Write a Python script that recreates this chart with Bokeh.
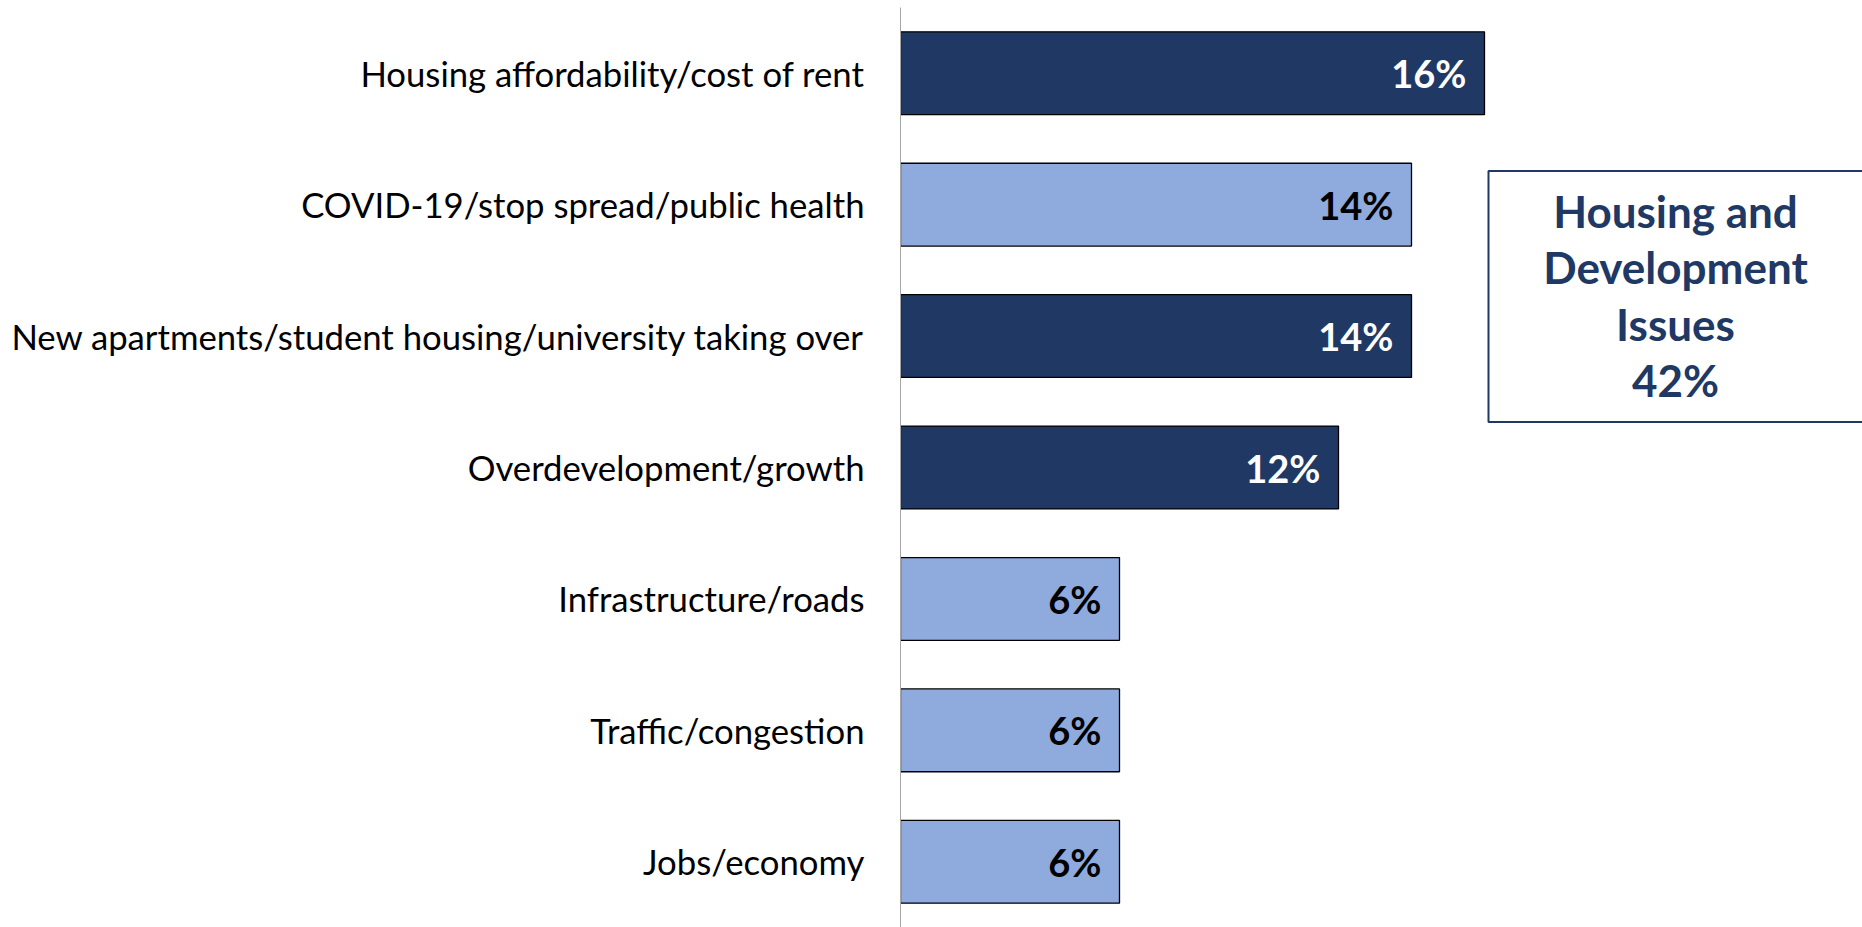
from bokeh.plotting import figure
from bokeh.models import Range1d, FactorRange, BoxAnnotation, Label, ColumnDataSource
from bokeh.core.properties import value
from bokeh.embed import file_html
from bokeh.resources import INLINE

categories = [
    "Housing affordability/cost of rent",
    "COVID-19/stop spread/public health",
    "New apartments/student housing/university taking over",
    "Overdevelopment/growth",
    "Infrastructure/roads",
    "Traffic/congestion",
    "Jobs/economy",
]
values = [16, 14, 14, 12, 6, 6, 6]
value_labels = ["16%", "14%", "14%", "12%", "6%", "6%", "6%"]
is_housing = [True, False, True, True, False, False, False]
callout_lines = ["Housing and", "Development", "Issues", "42%"]

DARK = "#203864"
LIGHT = "#8FAADC"

src = ColumnDataSource(dict(
    cat=categories,
    val=values,
    lbl=value_labels,
    fill=[DARK if h else LIGHT for h in is_housing],
    tcol=["white" if h else "black" for h in is_housing],
))

W, H = 1862, 927
LEFT = 900
TOP = 7
PX_PER_UNIT = 36.5
x_end = (W - LEFT) / PX_PER_UNIT

p = figure(
    width=W, height=H,
    y_range=FactorRange(factors=categories[::-1]),
    x_range=Range1d(0, x_end),
    output_backend="svg", toolbar_location=None,
    x_axis_location=None,
    min_border_left=LEFT, min_border_right=0,
    min_border_top=TOP, min_border_bottom=0,
)
p.outline_line_color = None
p.xgrid.visible = False
p.ygrid.visible = False

p.yaxis.axis_line_color = "#a6a6a6"
p.yaxis.axis_line_width = 1
p.yaxis.major_tick_line_color = None
p.yaxis.minor_tick_line_color = None
p.yaxis.major_label_standoff = 30
p.yaxis.major_label_text_font = "Lato"
p.yaxis.major_label_text_font_size = "34.7px"
p.yaxis.major_label_text_color = "black"

p.hbar(y="cat", right="val", left=0, height=0.63, source=src,
       fill_color="fill", line_color="black", line_width=1.3)

p.text(x="val", y="cat", text="lbl", source=src,
       text_align="right", text_baseline="middle", x_offset=-18,
       text_color="tcol", text_font=value("Lato"), text_font_style="bold",
       text_font_size="38px")

# callout box (pixel positions converted to data coordinates)
unit_h = (H - TOP) / len(categories)
def ydata(page_y):
    return (H - page_y) / unit_h
def xdata(page_x):
    return (page_x - LEFT) / PX_PER_UNIT

box = BoxAnnotation(left=xdata(1488), right=x_end + 2, top=ydata(170.5), bottom=ydata(421.5),
                    fill_alpha=0, fill_color=None, line_color=DARK, line_alpha=1, line_width=2)
p.add_layout(box)

baselines = [210, 266.5, 323, 379.5]
for t, b in zip(callout_lines, baselines):
    p.add_layout(Label(x=xdata(1675), y=ydata(b), text=t, text_align="center",
                       text_baseline="alphabetic", text_font="Lato", text_font_style="bold",
                       text_font_size="44px", text_color=DARK))

open("out.html", "w").write(file_html(p, INLINE))
